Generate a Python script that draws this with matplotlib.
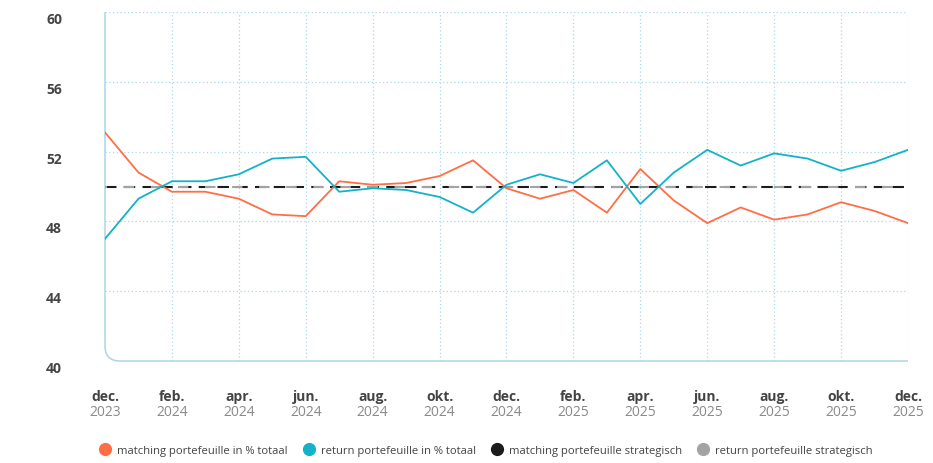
import matplotlib
matplotlib.use("Agg")
import matplotlib.pyplot as plt
from matplotlib.path import Path
from matplotlib.patches import PathPatch
from matplotlib.lines import Line2D
import matplotlib.transforms as mtransforms

# monthly values dec 2023 .. dec 2025
matching = [53.1, 50.8, 49.7, 49.7, 49.3, 48.4, 48.3, 50.3, 50.1, 50.2, 50.6, 51.5,
            49.9, 49.3, 49.8, 48.5, 51.0, 49.2, 47.9, 48.8, 48.1, 48.4, 49.1, 48.6, 47.9]
returns = [47.0, 49.3, 50.3, 50.3, 50.7, 51.6, 51.7, 49.7, 49.9, 49.8, 49.4, 48.5,
           50.1, 50.7, 50.2, 51.5, 49.0, 50.8, 52.1, 51.2, 51.9, 51.6, 50.9, 51.4, 52.1]
matching_strat = [50.0] * 25
return_strat = [50.0] * 25

tick_months = ["dec.", "feb.", "apr.", "jun.", "aug.", "okt.", "dec.", "feb.", "apr.",
               "jun.", "aug.", "okt.", "dec."]
tick_years = ["2023", "2024", "2024", "2024", "2024", "2024", "2024", "2025", "2025",
              "2025", "2025", "2025", "2025"]
yticks = [40, 44, 48, 52, 56, 60]

labels = ["matching portefeuille in % totaal", "return portefeuille in % totaal",
          "matching portefeuille strategisch", "return portefeuille strategisch"]
colors = ["#ff6e45", "#12b2c9", "#1c1c1c", "#a3a3a3"]

plt.rcParams['font.family'] = ['Open Sans', 'DejaVu Sans']

fig = plt.figure(figsize=(9.33, 4.64), dpi=100)
ax = fig.add_axes([105 / 933, 1 - 362 / 464, 803 / 933, 349 / 464])

x = list(range(len(matching)))
grid_c = "#a9d8ee"

ax.plot(x, matching_strat, color=colors[2], lw=1.5, ls=(0, (5.5, 3.5)), zorder=3)
ax.plot(x, return_strat, color=colors[3], lw=1.5, ls=(4, (5, 8)), zorder=3)
ax.plot(x, matching, color=colors[0], lw=1.3, zorder=4)
ax.plot(x, returns, color=colors[1], lw=1.3, zorder=4)

ax.set_xlim(0, 24)
ax.set_ylim(40, 60)

for s in ax.spines.values():
    s.set_visible(False)

# grid
for v in yticks[1:]:
    ax.axhline(v, color=grid_c, lw=0.9, ls=(0, (1, 2)), zorder=1)
for v in range(2, 25, 2):
    ax.axvline(v, color=grid_c, lw=0.9, ls=(0, (1, 2)), zorder=1)

# left/bottom frame with rounded corner
rx, ry = 15 / 803, 15 / 349
verts = [(0, 1), (0, ry), (0, 0), (rx, 0), (1, 0)]
codes = [Path.MOVETO, Path.LINETO, Path.CURVE3, Path.CURVE3, Path.LINETO]
ax.add_patch(PathPatch(Path(verts, codes), transform=ax.transAxes, fill=False,
                       edgecolor="#a9d6ec", lw=1.1, clip_on=False, zorder=2))

# y labels, sitting a bit below their grid lines
ax.set_yticks([])
ax.set_xticks([])
ytr = mtransforms.blended_transform_factory(ax.transAxes, ax.transData)
for v in yticks:
    ax.text(-0.0635, v - 0.4, str(v), transform=ytr, ha="center", va="center",
            fontsize=10, fontweight="bold", color="#444444")

# x labels
tr = ax.get_xaxis_transform()
for i, (m, yv) in enumerate(zip(tick_months, tick_years)):
    ax.text(i * 2, -0.1, m, transform=tr, ha="center", va="center",
            fontsize=10, fontweight="bold", color="#444444")
    ax.text(i * 2, -0.146, yv, transform=tr, ha="center", va="center",
            fontsize=10, color="#8a8a8a")

handles = [Line2D([], [], marker="o", ls="", markersize=8.5, color=c) for c in colors]
fig.legend(handles, labels, loc="center", bbox_to_anchor=(0.518, 0.028), ncol=4,
           frameon=False, fontsize=8.1, handletextpad=0.05, columnspacing=0.9,
           labelcolor="#444444")

fig.savefig("out.png", dpi=100)
